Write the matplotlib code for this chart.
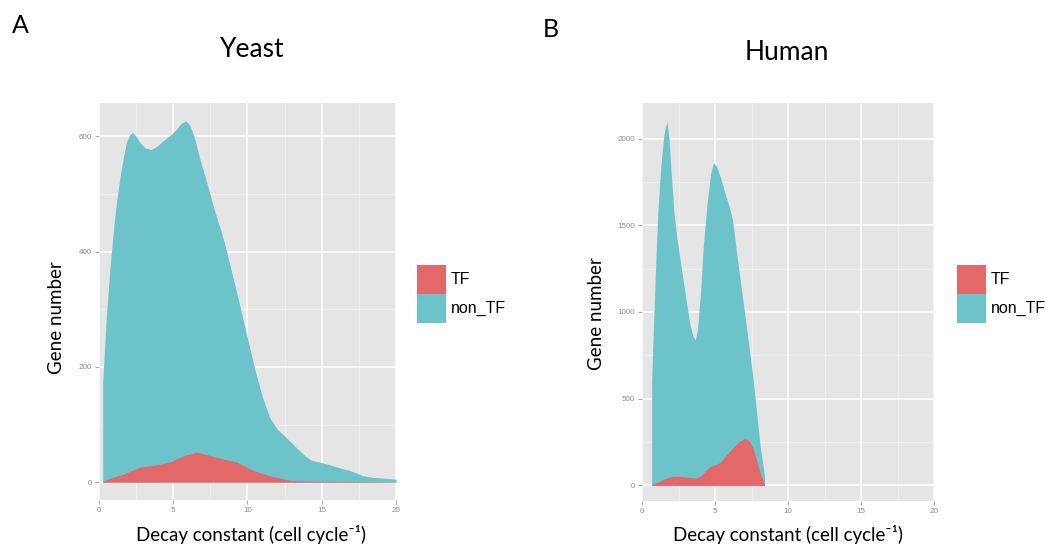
import matplotlib
matplotlib.use('Agg')
import matplotlib.pyplot as plt
from matplotlib.patches import Patch

# Yeast - courbes (bord superieur des aires)
yeast_x_non_tf = [0.25, 0.25, 0.5, 0.75, 1.0, 1.2, 1.45, 1.65, 1.85, 2.05, 2.25, 2.5, 2.8, 3.1, 3.5,
                  3.9, 4.3, 4.8, 5.2, 5.5, 5.85, 6.1, 6.4, 6.8, 7.2, 7.6, 7.9, 8.2, 8.5, 8.8, 9.1,
                  9.4, 9.9, 10.5, 11.0, 11.5, 12.0, 12.5, 12.9, 13.4, 13.9, 14.3, 14.8, 15.3, 15.8,
                  16.3, 16.8, 17.3, 17.8, 18.5, 19.2, 20.0]
yeast_non_tf = [0, 173, 290, 375, 445, 490, 535, 565, 590, 602, 607, 600, 588, 580, 577,
                583, 592, 602, 612, 622, 627, 620, 600, 560, 525, 488, 461, 437, 410, 378, 347,
                315, 260, 195, 148, 112, 92, 80, 70, 57, 45, 38, 35, 32, 28,
                24, 21, 16, 11, 8, 7, 5]
yeast_x_tf = [0.25, 0.8, 1.64, 2.76, 3.88, 4.78, 5.7, 6.58, 7.5, 8.37, 9.27, 10.4, 11.5,
              12.86, 14.0, 16.0, 18.0, 20.0]
yeast_tf = [2, 7, 14, 26, 30, 35, 46, 52, 46, 40, 35, 20, 11,
            3, 2, 1.5, 1, 0.5]

# Human
human_x_non_tf = [0.66, 0.66, 0.8, 0.95, 1.1, 1.3, 1.5, 1.7, 1.85, 2.0, 2.2, 2.4, 2.7, 3.0,
                  3.3, 3.5, 3.65, 3.8, 4.0, 4.2, 4.45, 4.7, 4.9, 5.1, 5.4, 5.7, 6.0, 6.2,
                  6.45, 6.7, 7.0, 7.3, 7.6, 7.9, 8.1, 8.3, 8.38, 8.4]
human_non_tf = [0, 600, 950, 1300, 1600, 1850, 2020, 2100, 2000, 1800, 1560, 1420, 1250, 1080,
                920, 860, 840, 900, 1100, 1380, 1620, 1800, 1860, 1840, 1770, 1680, 1600, 1530,
                1360, 1200, 1010, 820, 620, 380, 220, 110, 60, 0]
human_x_tf = [0.66, 1.0, 1.4, 1.8, 2.1, 2.5, 2.9, 3.3, 3.7, 4.0, 4.3, 4.65, 5.0, 5.3, 5.6,
              6.0, 6.3, 6.7, 7.0, 7.3, 7.6, 7.9, 8.1, 8.3, 8.4]
human_tf = [5, 15, 32, 45, 53, 52, 50, 45, 43, 55, 80, 108, 118, 130, 158,
            195, 225, 255, 268, 262, 215, 130, 70, 25, 0]

labels = ['TF', 'non_TF']
x_ticks = [0, 5, 10, 15, 20]
yeast_y_ticks = [0, 200, 400, 600]
human_y_ticks = [0, 500, 1000, 1500, 2000]

red = '#E2686A'
cyan = '#6DC3CA'
W, H = 1049, 545


def style_panel(ax, yticks, ylim, yminor):
    ax.set_facecolor('#E5E5E5')
    ax.set_xlim(0, 20)
    ax.set_ylim(*ylim)
    for v in [2.5, 7.5, 12.5, 17.5]:
        ax.axvline(v, color='#F0F0F0', lw=0.6, zorder=0)
    for v in yminor:
        ax.axhline(v, color='#F0F0F0', lw=0.6, zorder=0)
    for v in x_ticks:
        ax.axvline(v, color='white', lw=1.1, zorder=0)
    for v in yticks:
        ax.axhline(v, color='white', lw=1.1, zorder=0)
    ax.set_xticks(x_ticks)
    ax.set_xticklabels([str(t) for t in x_ticks])
    ax.set_yticks(yticks)
    ax.set_yticklabels([str(t) for t in yticks])
    ax.tick_params(length=3, width=0.6, color='#9A9A9A', labelcolor='#8A8A8A',
                   labelsize=5.8, pad=2)
    for lab in ax.get_xticklabels() + ax.get_yticklabels():
        lab.set_family('Liberation Sans')
    for s in ax.spines.values():
        s.set_visible(False)


fig = plt.figure(figsize=(W / 100, H / 100), dpi=100)

ax1 = fig.add_axes([99 / W, 1 - 500 / H, 297 / W, 397 / H])
ax1.fill_between(yeast_x_non_tf, yeast_non_tf, 0, color=cyan, lw=0, zorder=2)
ax1.fill_between(yeast_x_tf, yeast_tf, 0, color=red, lw=0, zorder=3)
style_panel(ax1, yeast_y_ticks, (-31, 658), [100, 300, 500])

ax2 = fig.add_axes([642 / W, 1 - 501 / H, 292 / W, 398 / H])
ax2.fill_between(human_x_non_tf, human_non_tf, 0, color=cyan, lw=0, zorder=2)
ax2.fill_between(human_x_tf, human_tf, 0, color=red, lw=0, zorder=3)
style_panel(ax2, human_y_ticks, (-90, 2205), [250, 750, 1250, 1750])

handles = [Patch(facecolor=red, edgecolor='none'), Patch(facecolor=cyan, edgecolor='none')]
for ax, lx in [(ax1, 417), (ax2, 957)]:
    ax.legend(handles, labels, loc='upper left', bbox_to_anchor=(lx / W, 1 - 265 / H),
              bbox_transform=fig.transFigure, frameon=False, borderpad=0, borderaxespad=0,
              handlelength=1.8, handleheight=2.41, labelspacing=0, handletextpad=0.3,
              prop={'family': 'Liberation Sans', 'size': 11.5})

lab_font = ['Lato', 'DejaVu Sans']
fig.text(252 / W, 1 - 57 / H, 'Yeast', ha='center', va='baseline', family=lab_font, fontsize=19)
fig.text(787 / W, 1 - 60 / H, 'Human', ha='center', va='baseline', family=lab_font, fontsize=19)
fig.text(12 / W, 1 - 33 / H, 'A', ha='left', va='baseline', family=lab_font, fontsize=18)
fig.text(543 / W, 1 - 37 / H, 'B', ha='left', va='baseline', family=lab_font, fontsize=18)

xlab = 'Decay constant (cell cycle\u207b\u00b9)'
fig.text(251 / W, 1 - 541.5 / H, xlab, ha='center', va='baseline', family=lab_font, fontsize=13.5)
fig.text(788 / W, 1 - 541.5 / H, xlab, ha='center', va='baseline', family=lab_font, fontsize=13.5)
fig.text(57 / W, 1 - 318 / H, 'Gene number', ha='center', va='center', rotation=90,
         family=lab_font, fontsize=13.5)
fig.text(597 / W, 1 - 314 / H, 'Gene number', ha='center', va='center', rotation=90,
         family=lab_font, fontsize=13.5)

fig.savefig('out.png', dpi=100)
